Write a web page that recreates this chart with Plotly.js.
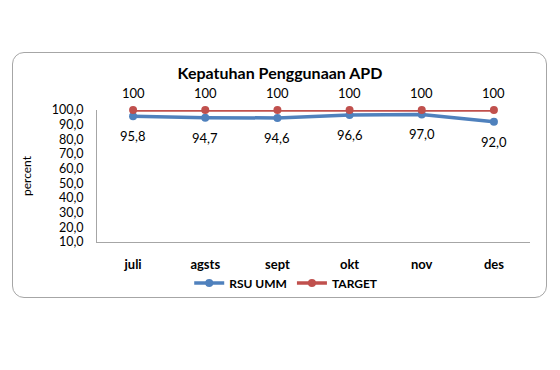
<!DOCTYPE html>
<html>
<head>
<meta charset="utf-8">
<script src="https://cdn.plot.ly/plotly-3.0.1.min.js"></script>
<style>
  html, body { margin: 0; padding: 0; background: #ffffff; }
  #wrap { position: relative; width: 560px; height: 370px; }
  #chart { width: 560px; height: 370px; }
  #frame { position: absolute; left: 12px; top: 52px; width: 533px; height: 244px;
           border: 1.5px solid #a6a6a6; border-radius: 12px; pointer-events: none; }
</style>
</head>
<body>
<div id="wrap">
  <div id="chart"></div>
  <div id="frame"></div>
</div>
<script>
const months = ["juli", "agsts", "sept", "okt", "nov", "des"];
const rsuUmm = [95.8, 94.7, 94.6, 96.6, 97.0, 92.0];
const target = [100, 100, 100, 100, 100, 100];
const yTicks = [10, 20, 30, 40, 50, 60, 70, 80, 90, 100];

const fmt1 = v => v.toFixed(1).replace('.', ',');
const FONT = "Lato, 'Open Sans', sans-serif";

const traces = [
  {
    x: months, y: rsuUmm, name: "RSU UMM", type: "scatter", mode: "lines+markers",
    line: { color: "#4F81BD", width: 3.5 },
    marker: { color: "#4F81BD", size: 8 },
    cliponaxis: false
  },
  {
    x: months, y: target, name: "TARGET", type: "scatter", mode: "lines+markers",
    line: { color: "#C0504D", width: 3.5 },
    marker: { color: "#C0504D", size: 8 },
    cliponaxis: false
  }
];

const annotations = [];
months.forEach((m, i) => {
  annotations.push({ x: m, y: target[i], xref: "x", yref: "y", text: String(target[i]),
    showarrow: false, yshift: 17, font: { size: 13, color: "#000", family: FONT } });
  annotations.push({ x: m, y: rsuUmm[i], xref: "x", yref: "y", text: fmt1(rsuUmm[i]),
    showarrow: false, yshift: -20, font: { size: 13, color: "#000", family: FONT } });
});

const layout = {
  width: 560, height: 370,
  margin: { l: 97, r: 30, t: 110, b: 128 },
  paper_bgcolor: "#ffffff", plot_bgcolor: "#ffffff",
  font: { family: FONT, color: "#000" },
  title: { text: "<b>Kepatuhan Penggunaan APD</b>", x: 0.5, xref: "container", xanchor: "center",
    y: 1 - 73 / 370, yref: "container", yanchor: "middle",
    font: { size: 16, family: FONT, color: "#000" } },
  xaxis: {
    type: "category", range: [-0.5, 5.5], showgrid: false, zeroline: false,
    showline: true, linecolor: "#a6a6a6", linewidth: 1, ticks: "",
    tickfont: { size: 13, family: FONT, color: "#000", weight: "bold" },
    ticklabelstandoff: 10, fixedrange: true
  },
  yaxis: {
    range: [10, 100], showgrid: false, zeroline: false,
    showline: true, linecolor: "#a6a6a6", linewidth: 1, ticks: "",
    tickvals: yTicks, ticktext: yTicks.map(fmt1),
    tickfont: { size: 12.5, family: FONT, color: "#000" },
    ticklabelstandoff: 10,
    title: { text: "percent", font: { size: 12, family: FONT, color: "#000" }, standoff: 17 },
    fixedrange: true
  },
  showlegend: true,
  legend: { orientation: "h", x: 0.437, xanchor: "center", y: -0.31, yanchor: "middle",
    font: { size: 12, family: FONT, color: "#000", weight: "bold" },
    bgcolor: "rgba(0,0,0,0)", tracegroupgap: 0 },
  annotations: annotations
};

Plotly.newPlot("chart", traces, layout, { displayModeBar: false, staticPlot: true });
</script>
</body>
</html>
